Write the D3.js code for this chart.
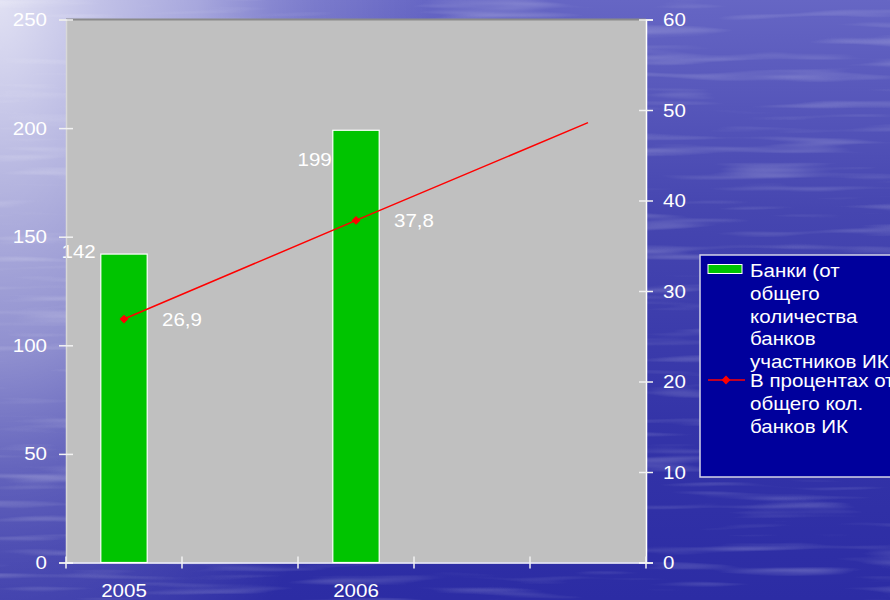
<!DOCTYPE html>
<html>
<head>
<meta charset="utf-8">
<script src="https://cdn.jsdelivr.net/npm/d3@7"></script>
<style>
  html, body { margin: 0; padding: 0; background: #2e2ea8; }
  svg { display: block; }
  text { font-family: "Liberation Sans", Arial, sans-serif; fill: #ffffff; }
</style>
</head>
<body>
<svg id="chart" width="890" height="600"></svg>
<script>
// Categories along the x axis (empty slots carry no label)
const categories = ["2005", "", "2006", "", ""];
// Number of banks
const bankCounts = [142, null, 199, null, null];
// Share of banks, percent (last point is the continuation without a marker)
const sharePct = [26.9, null, 37.8, null, 48.6];
const shareMarked = [true, false, true, false, false];
// Axis ticks
const leftTicks = [0, 50, 100, 150, 200, 250];
const rightTicks = [0, 10, 20, 30, 40, 50, 60];
// Legend entries
const legendBars = ["Банки (от", "общего", "количества", "банков", "участников ИК"];
const legendLine = ["В процентах от", "общего кол.", "банков ИК"];

const W = 890, H = 600;
const plot = { left: 66, right: 646, top: 19.5, bottom: 562.5 };
const FONT = 19;
const STRETCH = 1.08;

const svg = d3.select("#chart");
const defs = svg.append("defs");

// ---- background: deep blue water with a pale glow at the top-left ----
const base = defs.append("linearGradient").attr("id", "bgBase")
  .attr("x1", 0).attr("y1", 0).attr("x2", 0).attr("y2", 1);
[[0, "#6666c4"], [0.35, "#4646b0"], [0.7, "#3434a8"], [1, "#2c2ca4"]]
  .forEach(([o, c]) => base.append("stop").attr("offset", o).attr("stop-color", c));

const glow = defs.append("radialGradient").attr("id", "bgGlow")
  .attr("gradientUnits", "userSpaceOnUse")
  .attr("cx", 0).attr("cy", 0).attr("r", 430)
  .attr("gradientTransform", "scale(1,1.8)");
[[0, 0.8], [0.23, 0.6], [0.46, 0.43], [0.63, 0.22], [0.73, 0.14], [1, 0]]
  .forEach(([o, a]) => glow.append("stop").attr("offset", o)
    .attr("stop-color", "#ffffff").attr("stop-opacity", a));

const f = defs.append("filter").attr("id", "ripples")
  .attr("x", 0).attr("y", 0).attr("width", 1).attr("height", 1);
f.append("feTurbulence").attr("type", "fractalNoise")
  .attr("baseFrequency", "0.007 0.11").attr("numOctaves", 2).attr("seed", 4);
f.append("feColorMatrix").attr("type", "matrix")
  .attr("values", "0 0 0 0 1  0 0 0 0 1  0 0 0 0 1  1.8 0 0 0 -0.95");

svg.append("rect").attr("width", W).attr("height", H).attr("fill", "url(#bgBase)");
svg.append("rect").attr("width", W).attr("height", H).attr("fill", "url(#bgGlow)");
svg.append("rect").attr("width", W).attr("height", H)
  .attr("filter", "url(#ripples)").attr("opacity", 0.35);

// ---- scales ----
const idx = d3.range(categories.length);
const x = d3.scaleBand().domain(idx).range([plot.left, plot.right]).padding(0);
const yL = d3.scaleLinear().domain([0, 250]).range([plot.bottom, plot.top]);
const yR = d3.scaleLinear().domain([0, 60]).range([plot.bottom, plot.top]);

// ---- plot area ----
svg.append("rect")
  .attr("x", plot.left).attr("y", plot.top)
  .attr("width", plot.right - plot.left).attr("height", plot.bottom - plot.top)
  .attr("fill", "#c0c0c0");
svg.append("line")
  .attr("x1", plot.left).attr("x2", plot.right)
  .attr("y1", plot.top).attr("y2", plot.top)
  .attr("stroke", "#8a8a8a").attr("stroke-width", 2);

// ---- bars ----
const barW = x.bandwidth() * 0.4;
const bars = idx.filter(i => bankCounts[i] != null);
svg.append("g").selectAll("rect").data(bars).join("rect")
  .attr("x", i => x(i) + (x.bandwidth() - barW) / 2)
  .attr("y", i => yL(bankCounts[i]))
  .attr("width", barW)
  .attr("height", i => yL(0) - yL(bankCounts[i]))
  .attr("fill", "#00c400")
  .attr("stroke", "#ffffff").attr("stroke-width", 1.2);

// bar value labels sit to the upper-left of each bar
const barLabelNudge = { 0: [-5, -2.5], 2: [-1, 29] };
svg.append("g").selectAll("text").data(bars).join("text")
  .attr("class", "stretch")
  .attr("x", i => x(i) + (x.bandwidth() - barW) / 2 + barLabelNudge[i][0])
  .attr("y", i => yL(bankCounts[i]) + barLabelNudge[i][1])
  .attr("dy", "0.35em")
  .attr("text-anchor", "end")
  .attr("font-size", FONT)
  .text(i => String(bankCounts[i]));

// ---- percentage line ----
const pts = idx.filter(i => sharePct[i] != null);
const cx = i => x(i) + x.bandwidth() / 2;
svg.append("path")
  .datum(pts)
  .attr("d", d3.line().x(cx).y(i => yR(sharePct[i])))
  .attr("fill", "none").attr("stroke", "#ff0000").attr("stroke-width", 1.5);

const marked = pts.filter(i => shareMarked[i]);
const diamond = d3.symbol().type(d3.symbolDiamond2).size(50);
svg.append("g").selectAll("path").data(marked).join("path")
  .attr("transform", i => `translate(${cx(i)},${yR(sharePct[i])})`)
  .attr("d", diamond).attr("fill", "#ff0000");

const fmtPct = v => v.toFixed(1).replace(".", ",");
svg.append("g").selectAll("text").data(marked).join("text")
  .attr("class", "stretch")
  .attr("x", i => cx(i) + 38)
  .attr("y", i => yR(sharePct[i]))
  .attr("dy", "0.35em")
  .attr("font-size", FONT)
  .text(i => fmtPct(sharePct[i]));

// ---- axes ----
const axisColor = "#f2f2f2";
const gL = svg.append("g").attr("transform", `translate(${plot.left},0)`)
  .call(d3.axisLeft(yL).tickValues(leftTicks).tickSize(7).tickPadding(12));
gL.select(".domain").attr("stroke", "#d8d8d8").attr("stroke-width", 1.5);
gL.selectAll(".tick line").attr("x1", 7).attr("x2", -7)
  .attr("stroke", axisColor).attr("stroke-width", 1.5);
gL.selectAll(".tick text").attr("class", "stretch").attr("font-size", FONT)
  .attr("font-family", null).attr("fill", null);

const gR = svg.append("g").attr("transform", `translate(${plot.right},0)`)
  .call(d3.axisRight(yR).tickValues(rightTicks).tickSize(7).tickPadding(10));
gR.select(".domain").attr("stroke", "#ffffff").attr("stroke-width", 1.5);
gR.selectAll(".tick line").attr("x1", -7).attr("x2", 7)
  .attr("stroke", axisColor).attr("stroke-width", 1.5);
gR.selectAll(".tick text").attr("class", "stretch").attr("font-size", FONT)
  .attr("font-family", null).attr("fill", null);

const gB = svg.append("g").attr("transform", `translate(0,${plot.bottom})`)
  .call(d3.axisBottom(x).tickSize(0).tickPadding(0).tickFormat(i => categories[i]));
gB.select(".domain").attr("stroke", "#ffffff").attr("stroke-width", 1.5);
gB.selectAll(".tick text").attr("class", "stretch").attr("font-size", FONT)
  .attr("font-family", null).attr("fill", null)
  .attr("y", 28).attr("dy", "0.35em");
// category boundary ticks crossing the axis
gB.append("g").selectAll("line").data(d3.range(categories.length + 1)).join("line")
  .attr("x1", k => plot.left + k * x.step()).attr("x2", k => plot.left + k * x.step())
  .attr("y1", -6).attr("y2", 6)
  .attr("stroke", axisColor).attr("stroke-width", 1.5);

// ---- legend ----
const lg = svg.append("g");
lg.append("rect")
  .attr("x", 700).attr("y", 255).attr("width", 220).attr("height", 222)
  .attr("fill", "#00009c").attr("stroke", "#d4d4e8").attr("stroke-width", 1.5);
lg.append("rect")
  .attr("x", 708).attr("y", 264.5).attr("width", 34).attr("height", 9)
  .attr("fill", "#00c400").attr("stroke", "#ffffff").attr("stroke-width", 1);
lg.append("line")
  .attr("x1", 708).attr("x2", 745).attr("y1", 380).attr("y2", 380)
  .attr("stroke", "#ff0000").attr("stroke-width", 1.5);
lg.append("path").attr("transform", "translate(726,380)")
  .attr("d", diamond).attr("fill", "#ff0000");

const lineH = 22.7;
const legendRows = [
  ...legendBars.map((t, k) => ({ t, y: 270.7 + k * lineH })),
  ...legendLine.map((t, k) => ({ t, y: 380.5 + k * lineH }))
];
lg.selectAll("text.leg").data(legendRows).join("text")
  .attr("class", "stretch")
  .attr("x", 750).attr("y", d => d.y).attr("dy", "0.35em")
  .attr("font-size", FONT)
  .text(d => d.t);

// widen the lettering slightly, as in the wide-screen slide layout
svg.selectAll("text.stretch").each(function () {
  const w = this.getComputedTextLength();
  if (w > 0) {
    this.setAttribute("textLength", (w * STRETCH).toFixed(2));
    this.setAttribute("lengthAdjust", "spacingAndGlyphs");
  }
});
</script>
</body>
</html>
